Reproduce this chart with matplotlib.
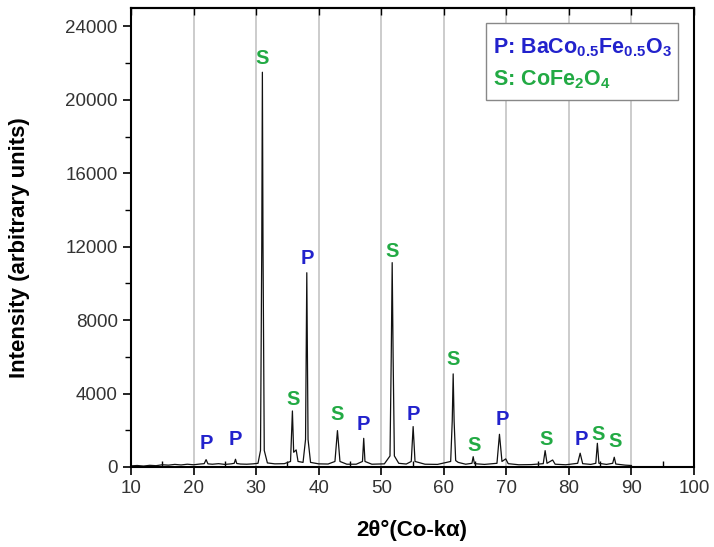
import matplotlib
matplotlib.use("Agg")
import matplotlib.pyplot as plt
from matplotlib.ticker import MultipleLocator

plt.rcParams['font.family'] = ['Liberation Sans', 'DejaVu Sans']
plt.rcParams['mathtext.fontset'] = 'custom'
plt.rcParams['mathtext.rm'] = 'Liberation Sans'
plt.rcParams['mathtext.bf'] = 'Liberation Sans:bold'

# XRD pattern
two_theta = [10.0, 11.0, 12.0, 13.0, 14.0, 15.0, 16.0, 17.0, 18.0, 19.0, 20.0, 21.0,
             21.7, 22.0, 22.3, 23.0, 24.0, 25.0, 26.0, 26.5, 26.7, 26.9, 27.5, 28.5,
             29.5, 30.3, 30.7, 30.9, 31.0, 31.1, 31.3, 31.8, 33.0, 34.5, 35.5, 35.8,
             36.0, 36.4, 36.7, 37.5, 37.9, 38.1, 38.3, 38.7, 40.0, 41.5, 42.6, 43.0,
             43.4, 44.5, 46.0, 47.0, 47.2, 47.4, 48.5, 50.5, 51.4, 51.6, 51.75, 51.9,
             52.1, 52.8, 54.0, 54.8, 55.1, 55.4, 57.0, 59.0, 61.1, 61.35, 61.5, 61.65,
             61.9, 62.3, 63.5, 64.5, 64.7, 64.9, 66.5, 68.5, 68.9, 69.3, 69.9, 70.3,
             72.0, 74.0, 75.9, 76.2, 76.5, 77.4, 77.8, 79.5, 81.4, 81.8, 82.2, 83.5,
             84.3, 84.55, 84.8, 86.0, 87.0, 87.25, 87.5, 89.0, 90.0]
intensity = [60, 80, 50, 90, 70, 120, 100, 140, 110, 150, 120, 160,
             180, 400, 170, 150, 180, 140, 170, 200, 420, 190, 160, 150,
             170, 200, 900, 12000, 21500, 12000, 900, 220, 170, 180, 300, 3050,
             800, 930, 300, 250, 1500, 10580, 1500, 250, 170, 160, 300, 1980,
             300, 150, 150, 300, 1560, 300, 150, 170, 600, 6000, 11130, 6000,
             600, 200, 160, 300, 2200, 300, 150, 140, 300, 2500, 5070, 2500,
             350, 250, 150, 200, 560, 180, 140, 200, 1780, 300, 440, 180,
             120, 130, 180, 890, 200, 380, 150, 120, 200, 750, 180, 140,
             200, 1290, 200, 140, 200, 530, 160, 100, 80]

# Phase labels
label_text = ['P', 'P', 'S', 'S', 'P', 'S', 'P', 'S', 'P', 'S', 'S', 'P', 'S', 'P', 'S', 'S']
label_x = [22.1, 26.7, 31.0, 35.9, 38.2, 43.0, 47.2, 51.8, 55.1, 61.5, 64.8, 69.3, 76.4, 82.0, 84.7, 87.4]
label_y = [1300, 1470, 22240, 3690, 11330, 2870, 2290, 11740, 2870, 5840, 1150, 2560, 1510, 1510, 1750, 1380]

x_ticks = [10, 20, 30, 40, 50, 60, 70, 80, 90, 100]
y_ticks = [0, 4000, 8000, 12000, 16000, 20000, 24000]
grid_x = [20, 30, 40, 50, 60, 70, 80, 90]

P_COLOR = '#2222cc'
S_COLOR = '#22aa44'

fig = plt.figure(figsize=(7.14, 5.47), dpi=100)
ax = fig.add_axes([0.1835, 0.1463, 0.7885, 0.8391])

for gx in grid_x:
    ax.axvline(gx, color='#c8c8c8', lw=1.3, zorder=0)

ax.plot(two_theta, intensity, color='#111111', lw=0.9, zorder=2)

for t, lx, ly in zip(label_text, label_x, label_y):
    ax.text(lx, ly, t, color=P_COLOR if t == 'P' else S_COLOR, fontsize=14.5,
            fontweight='bold', ha='center', va='center', zorder=3)

ax.set_xlim(10, 100)
ax.set_ylim(0, 25000)
ax.set_xticks(x_ticks)
ax.set_yticks(y_ticks)
ax.xaxis.set_minor_locator(MultipleLocator(5))
ax.yaxis.set_minor_locator(MultipleLocator(2000))

ax.tick_params(axis='both', which='major', labelsize=13.5, labelcolor='#333333',
               width=1.2, length=6, direction='out')
ax.tick_params(axis='y', which='minor', width=1.0, length=4, direction='out')
ax.tick_params(axis='x', which='minor', width=1.0, length=4, direction='in')
sec = ax.secondary_xaxis('top')
sec.set_xticks(x_ticks, labels=[])
sec.tick_params(direction='in', length=5, width=1.0)
sec.spines['top'].set_linewidth(1.5)

for s in ax.spines.values():
    s.set_linewidth(1.5)

fig.text(0.028, 0.5466, 'Intensity (arbitrary units)', fontsize=16, fontweight='bold',
         rotation=90, ha='center', va='center')
fig.text(0.577, 0.031, '2θ°(Co-kα)', fontsize=16, fontweight='bold',
         ha='center', va='center')

# Legend box
leg_lines = [(r'P: BaCo$_{\mathbf{0.5}}$Fe$_{\mathbf{0.5}}$O$_{\mathbf{3}}$', P_COLOR),
             (r'S: CoFe$_{\mathbf{2}}$O$_{\mathbf{4}}$', S_COLOR)]
box = plt.Rectangle((0.681, 0.817), 0.269, 0.1415, transform=fig.transFigure,
                    fill=True, facecolor='white', edgecolor='#888888', lw=1.0, zorder=5)
fig.add_artist(box)
fig.text(0.690, 0.912, leg_lines[0][0], color=P_COLOR, fontsize=15.5, fontweight='bold',
         va='center', ha='left', zorder=6)
fig.text(0.690, 0.854, leg_lines[1][0], color=S_COLOR, fontsize=15.5, fontweight='bold',
         va='center', ha='left', zorder=6)

fig.savefig('out.png', dpi=100)
